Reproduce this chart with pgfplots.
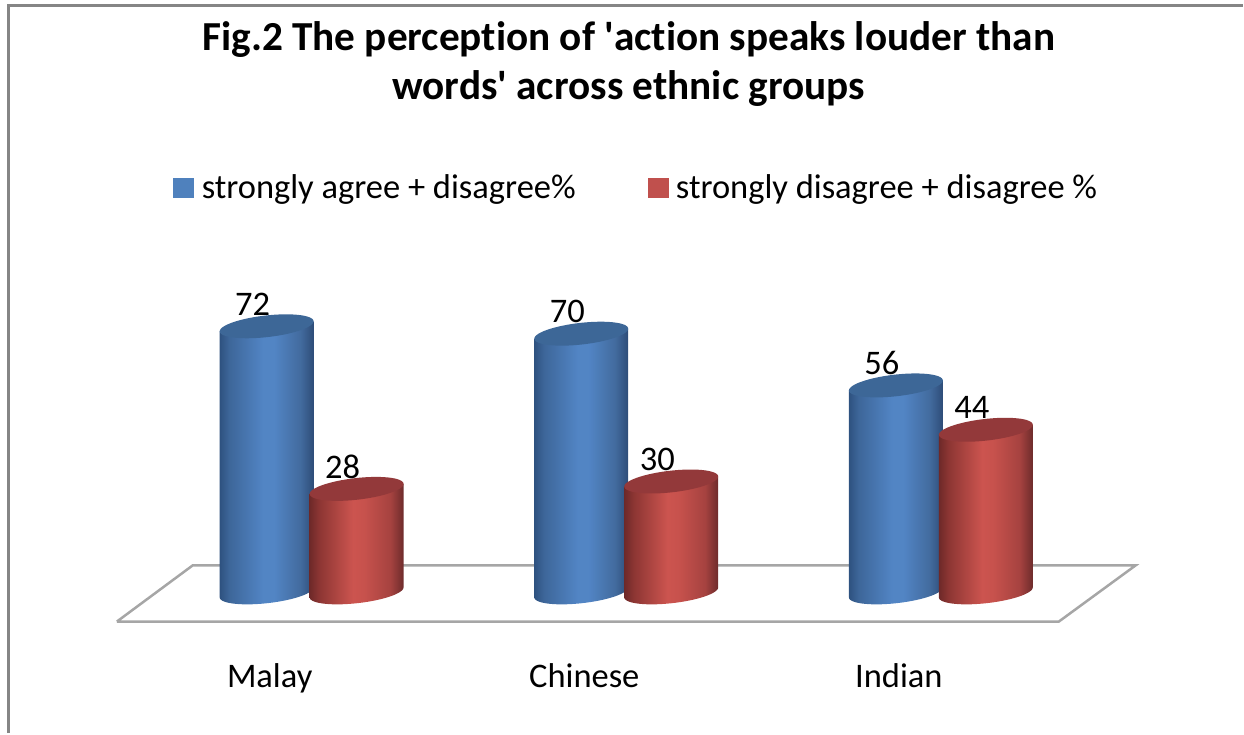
\documentclass[border=0pt]{standalone}
\usepackage{pgfplots}
\usepackage{fontspec}
\setmainfont{Carlito}[Ligatures=NoCommon]
\pgfplotsset{compat=1.18}
\definecolor{blueleg}{HTML}{4F81BD}
\definecolor{redleg}{HTML}{C0504D}
\definecolor{bluecap}{HTML}{3D6797}
\definecolor{redcap}{HTML}{93393A}
\definecolor{floorgray}{HTML}{A6A6A6}
\definecolor{framegray}{HTML}{858585}
\pgfdeclarehorizontalshading{cylblueb}{100bp}{rgb(0bp)=(0.18,0.32,0.50);rgb(25bp)=(0.18,0.32,0.50);rgb(30bp)=(0.24,0.40,0.60);rgb(48bp)=(0.32,0.52,0.77);rgb(54bp)=(0.32,0.52,0.77);rgb(68bp)=(0.26,0.42,0.62);rgb(75bp)=(0.18,0.30,0.47);rgb(100bp)=(0.18,0.30,0.47)}
\pgfdeclarehorizontalshading{cylred}{100bp}{rgb(0bp)=(0.43,0.16,0.16);rgb(25bp)=(0.43,0.16,0.16);rgb(30bp)=(0.55,0.21,0.20);rgb(48bp)=(0.80,0.33,0.31);rgb(54bp)=(0.78,0.32,0.30);rgb(68bp)=(0.65,0.26,0.25);rgb(75bp)=(0.43,0.17,0.17);rgb(100bp)=(0.43,0.17,0.17)}
\pgfdeclareplotmark{nothing}{}
\newcommand{\cylinder}[3]{%
  \pgfmathsetmacro\cylh{#1*3.7}%
  \begin{scope}[x=1pt,y=1pt]
    \path[draw=none,shading=#2] (-47,-5) -- (47,5) -- (47,5-\cylh)
      -- plot[domain=0:-180,samples=41,smooth] ({47*cos(\x)},{5*cos(\x)+10.9*sin(\x)-\cylh})
      -- cycle;
    \path[draw=none,fill=#3] plot[domain=0:360,samples=61,smooth] ({47*cos(\x)},{5*cos(\x)+10.9*sin(\x)}) -- cycle;
  \end{scope}}
\begin{document}
\begin{tikzpicture}
\begin{axis}[
  scale only axis, width=1244pt, height=734pt,
  xmin=-0.990476, xmax=2.95873,
  ymin=-38.11, ymax=160.27,
  axis line style={draw=none},
  major tick length=0pt,
  ytick=\empty,
  xtick={0,1,2},
  xticklabels={Malay,Chinese,Indian},
  x tick label style={font=\fontsize{34.5}{40}\selectfont, xshift=-42pt, yshift=73pt},
  clip=false,
  /pgf/number format/assume math mode=true,
  legend columns=2,
  legend cell align=left,
  legend style={draw=none, fill=none, font=\fontsize{34.5}{40}\selectfont,
    at={(axis cs:-0.44,109.5)}, anchor=west, inner sep=0pt,
    /tikz/every even column/.append style={column sep=70pt}},
  visualization depends on={rawy\as\rawy},
]
\addplot[floorgray, line width=2.5pt, forget plot, mark=none]
  coordinates {(-0.619,-7.9) (2.375,-7.9) (2.619,7.3) (-0.378,7.3) (-0.619,-7.9)};
\addplot[scatter, only marks, mark=nothing, scatter src=y,
  nodes near coords,
  nodes near coords style={font=\fontsize{34.5}{40}\selectfont, text=black, anchor=center, xshift=-14pt, yshift=22pt},
  scatter/@pre marker code/.code={\cylinder{\rawy}{cylblueb}{bluecap}},
  legend image code/.code={\fill[blueleg] (0pt,-10pt) rectangle (20pt,10pt);\path (26pt,0pt);}]
  coordinates {(-0.143,72) (0.857,70) (1.857,56)};
\addlegendentry{strongly agree + disagree\%}
\addplot[scatter, only marks, mark=nothing, scatter src=y,
  nodes near coords,
  nodes near coords style={font=\fontsize{34.5}{40}\selectfont, text=black, anchor=center, xshift=-14pt, yshift=22pt},
  scatter/@pre marker code/.code={\cylinder{\rawy}{cylred}{redcap}},
  legend image code/.code={\fill[redleg] (0pt,-10pt) rectangle (20pt,10pt);\path (26pt,0pt);}]
  coordinates {(0.143,28) (1.143,30) (2.143,44)};
\addlegendentry{strongly disagree + disagree \%}
\node[font=\fontsize{41.3}{49}\selectfont\bfseries, align=center, anchor=center] at (rel axis cs:0.506,0.913)
  {Fig.2 The perception of \textquotesingle action speaks louder than\\words\textquotesingle{} across ethnic groups};
\draw[framegray, line width=3pt] (rel axis cs:0.0072,0) -- (rel axis cs:0.0072,0.992) -- (rel axis cs:1,0.992);
\end{axis}
\end{tikzpicture}
\end{document}
